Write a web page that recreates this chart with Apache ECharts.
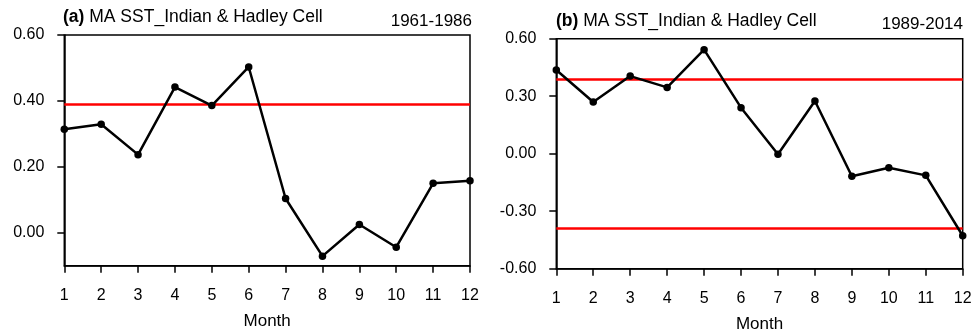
<!DOCTYPE html>
<html><head><meta charset="utf-8">
<script src="https://cdn.jsdelivr.net/npm/echarts@6/dist/echarts.min.js"></script>
<style>html,body{margin:0;padding:0;background:#fff}#c{width:971px;height:329px}</style>
</head><body><div id="c"></div>
<script>
var months = [1,2,3,4,5,6,7,8,9,10,11,12];
var seriesA = [0.314,0.329,0.237,0.442,0.386,0.503,0.104,-0.071,0.025,-0.044,0.150,0.158];
var seriesB = [0.437,0.270,0.405,0.346,0.543,0.240,-0.003,0.275,-0.118,-0.073,-0.113,-0.428];
var sigLevel = 0.388;
var ticksA = [0.0,0.2,0.4,0.6];
var ticksB = [-0.6,-0.3,0.0,0.3,0.6];
var titleA = 'MA SST_Indian & Hadley Cell';
var titleB = 'MA SST_Indian & Hadley Cell';
var periodA = '1961-1986';
var periodB = '1989-2014';

var FONT = '"Liberation Sans", Arial, Helvetica, sans-serif';
function pairs(v){return months.map(function(m,i){return [m,v[i]];});}
function xAxis(idx){
  return {type:'value', gridIndex:idx, min:1, max:12, interval:1,
    name:'Month', nameLocation:'middle', nameGap:47,
    nameTextStyle:{color:'#000', fontSize:17, fontFamily:FONT},
    axisLine:{show:true, onZero:false, lineStyle:{color:'#000', width:1.5}},
    axisTick:{show:true, inside:false, length:7, lineStyle:{color:'#000', width:1.5}},
    axisLabel:{color:'#000', fontSize:16, fontFamily:FONT, margin:22},
    splitLine:{show:false}};
}
function yAxis(idx, min, max, ticks){
  return {type:'value', gridIndex:idx, min:min, max:max,
    axisLine:{show:true, onZero:false, lineStyle:{color:'#000', width:1.5}},
    axisTick:{show:true, inside:false, length:7, customValues:ticks, lineStyle:{color:'#000', width:1.5}},
    axisLabel:{color:'#000', fontSize:16, fontFamily:FONT, margin:20, customValues:ticks,
      formatter:function(v){return v.toFixed(2);}},
    splitLine:{show:false}};
}
function lineSeries(idx, data, marks){
  return {type:'line', xAxisIndex:idx, yAxisIndex:idx, data:pairs(data),
    symbol:'circle', symbolSize:7.5, showSymbol:true,
    lineStyle:{color:'#000', width:2.5}, itemStyle:{color:'#000'},
    z:3, animation:false,
    markLine:{silent:true, symbol:'none', label:{show:false}, animation:false,
      lineStyle:{color:'#ff0000', width:2.5, type:'solid'}, z:2,
      data:marks.map(function(v){return {yAxis:v};})}};
}
var tStyle = {fontSize:17.5, fontWeight:'normal', color:'#000', fontFamily:FONT,
  rich:{b:{fontWeight:'bold', fontSize:17.5, fontFamily:FONT, color:'#000'}}};
var pStyle = {fontSize:17, fontWeight:'normal', color:'#000', fontFamily:FONT};
var chart = echarts.init(document.getElementById('c'), null, {renderer:'canvas'});
chart.setOption({
  backgroundColor:'#fff',
  animation:false,
  title:[
    {text:'{b|(a)} '+titleA, left:63, top:8, padding:0, textStyle:tStyle},
    {text:periodA, right:499, top:13, padding:0, textStyle:pStyle},
    {text:'{b|(b)} '+titleB, left:556, top:12, padding:0, textStyle:tStyle},
    {text:periodB, right:8, top:15.5, padding:0, textStyle:pStyle}
  ],
  grid:[
    {left:64.3, right:501, top:35, bottom:63.3, show:true, borderColor:'#000', borderWidth:1.5, containLabel:false, outerBoundsMode:'none'},
    {left:556.3, right:8.3, top:38.7, bottom:60.3, show:true, borderColor:'#000', borderWidth:1.5, containLabel:false, outerBoundsMode:'none'}
  ],
  xAxis:[xAxis(0), xAxis(1)],
  yAxis:[yAxis(0,-0.1,0.6,ticksA), yAxis(1,-0.6,0.6,ticksB)],
  series:[lineSeries(0, seriesA, [sigLevel]), lineSeries(1, seriesB, [sigLevel,-sigLevel])]
});
</script></body></html>
